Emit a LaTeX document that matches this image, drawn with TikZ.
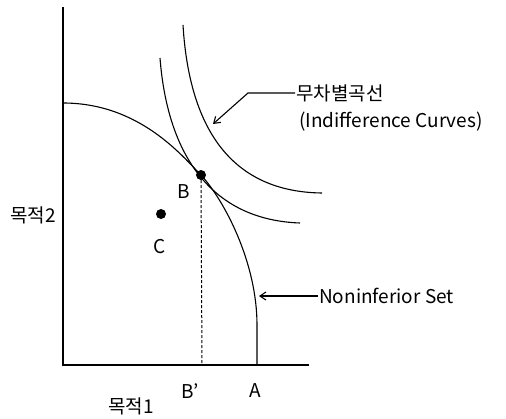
\documentclass[tikz,border=0pt]{standalone}
\usepackage{fontspec}
\setmainfont{Noto Sans CJK KR}
\usetikzlibrary{positioning, arrows.meta}

\begin{document}
\begin{tikzpicture}[
    x=1pt, y=-1pt,
    font=\fontsize{19}{21}\selectfont,
    curve/.style={line width=1.1pt},
    axis/.style={line width=1.4pt},
    pointer/.style={line width=1.1pt, -{Straight Barb[length=6pt, width=8pt]}},
    lbl/.style={inner sep=1pt}
]
    \useasboundingbox (0,0) rectangle (506,418);

    % --- Achsen ---
    \coordinate (origin) at (63,365);
    \coordinate (ytop) at (63,7);
    \coordinate (xend) at (309,365);
    \draw[axis] (ytop) -- (origin) -- (xend);

    % --- Noninferior Set ---
    \coordinate (nstart) at (63,103);
    \coordinate (B) at (201,175);
    \coordinate (A) at (257,365);
    \draw[curve] (nstart) .. controls (140,103) and (183,157) .. (B)
        .. controls (224,200) and (257,262) .. (257,325) -- (A);

    % --- Indifferenzkurven ---
    \draw[curve] (160,58) .. controls (168,160) and (215,220) .. (300,223);
    \draw[curve] (183,25) .. controls (190,140) and (240,192) .. (322,193);

    % Punkte
    \fill (B) circle (5);
    \node (Bdot) at (B) {};
    \coordinate (C) at (161,214);
    \fill (C) circle (5);
    \node (Cdot) at (C) {};
    \coordinate (Bfoot) at (202,365);
    \draw[dashed, line width=1pt, dash pattern=on 3pt off 2pt] (B) -- (Bfoot);

    % Beschriftung
    \node[lbl] (labB) at (184,192) {B};
    \node[lbl] (labC) at (160,247) {C};
    \node[lbl] (labBp) at (190,391) {B'};
    \node[lbl] (labA) at (255,391) {A};
    \node[lbl] (ziel1) at (131,406) {목적1};
    \node[lbl] (ziel2) at (33,215) {목적2};

    % --- Hinweise ---
    \node[lbl, anchor=west] (indiffKr) at (295,93) {무차별곡선};
    \node[lbl, anchor=west] (indiffEn) at (298,122) {(Indifference Curves)};
    \coordinate (indiffTip) at (213,124);
    \draw[pointer] (indiffKr.west) -- (248,93) -- (indiffTip);

    \node[lbl, anchor=west] (ninf) at (318,296) {Noninferior Set};
    \coordinate (ninfTip) at (259,296);
    \draw[pointer] (ninf.west) -- (ninfTip);

\end{tikzpicture}
\end{document}
